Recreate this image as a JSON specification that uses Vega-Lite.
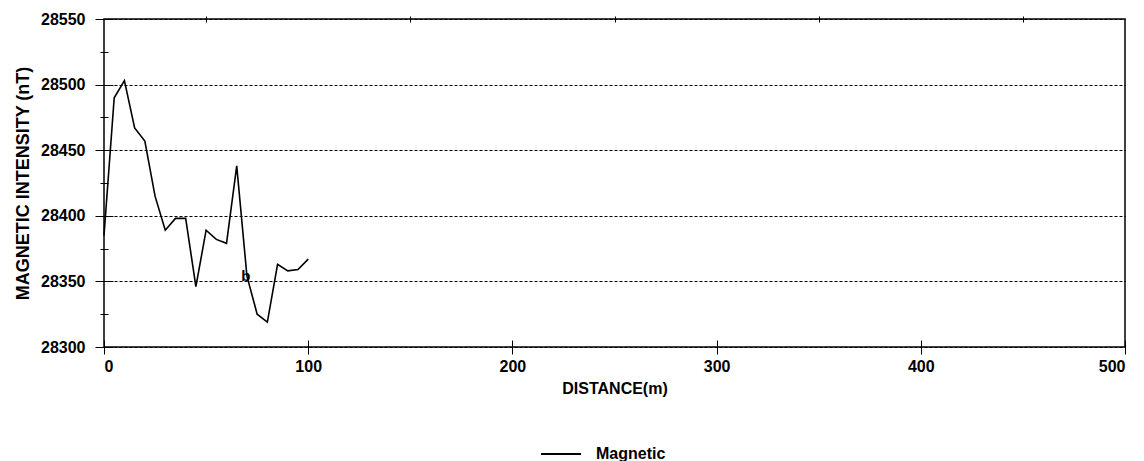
{
  "$schema": "https://vega.github.io/schema/vega-lite/v6.json",
  "autosize": {"type": "none"},
  "padding": {"left": 104, "top": 19, "right": 19, "bottom": 114},
  "width": 1021,
  "height": 328,
  "background": "white",
  "config": {
    "view": {"stroke": "black", "strokeWidth": 1.5},
    "font": "Liberation Sans",
    "axis": {
      "labelFont": "Liberation Sans", "labelFontWeight": "bold", "labelFontSize": 16, "labelColor": "black",
      "titleFont": "Liberation Sans", "titleFontWeight": "bold", "titleFontSize": 16, "titleColor": "black",
      "tickColor": "black", "domain": false
    }
  },
  "datasets": {
    "survey": [
      {"distance": 0, "intensity": 28385},
      {"distance": 5, "intensity": 28490},
      {"distance": 10, "intensity": 28503},
      {"distance": 15, "intensity": 28467},
      {"distance": 20, "intensity": 28457},
      {"distance": 25, "intensity": 28415},
      {"distance": 30, "intensity": 28389},
      {"distance": 35, "intensity": 28398},
      {"distance": 40, "intensity": 28398},
      {"distance": 45, "intensity": 28346},
      {"distance": 50, "intensity": 28389},
      {"distance": 55, "intensity": 28382},
      {"distance": 60, "intensity": 28379},
      {"distance": 65, "intensity": 28438},
      {"distance": 70, "intensity": 28354},
      {"distance": 75, "intensity": 28325},
      {"distance": 80, "intensity": 28319},
      {"distance": 85, "intensity": 28363},
      {"distance": 90, "intensity": 28358},
      {"distance": 95, "intensity": 28359},
      {"distance": 100, "intensity": 28367}
    ],
    "note": [
      {"distance": 69.5, "intensity": 28354, "label": "b"}
    ]
  },
  "layer": [
    {
      "data": {"name": "survey"},
      "mark": {"type": "line", "strokeWidth": 1.6, "color": "black"},
      "encoding": {
        "x": {
          "field": "distance", "type": "quantitative",
          "scale": {"domain": [0, 500], "nice": false},
          "axis": {
            "title": "DISTANCE(m)", "values": [0, 100, 200, 300, 400, 500],
            "offset": -7, "tickSize": 14, "labelPadding": 4, "titlePadding": 6,
            "grid": false, "format": "d"
          }
        },
        "y": {
          "field": "intensity", "type": "quantitative",
          "scale": {"domain": [28300, 28550], "nice": false, "zero": false},
          "axis": {
            "title": "MAGNETIC INTENSITY (nT)", "titleFontSize": 18,
            "values": [28300, 28350, 28400, 28450, 28500, 28550],
            "offset": -9, "tickSize": 18, "labelPadding": 10, "titlePadding": 8,
            "grid": true, "gridColor": "black", "gridDash": [3, 2], "gridWidth": 1.2, "gridOpacity": 1,
            "format": "d"
          }
        },
        "color": {
          "datum": "Magnetic",
          "scale": {"range": ["black"]},
          "legend": {
            "title": null, "orient": "none", "legendX": 436, "legendY": 414,
            "symbolType": "stroke", "symbolSize": 1600, "symbolStrokeWidth": 2,
            "symbolStrokeColor": "black", "symbolOpacity": 1,
            "labelFont": "Liberation Sans", "labelFontWeight": "bold", "labelFontSize": 16,
            "labelColor": "black", "labelOffset": 14
          }
        }
      }
    },
    {
      "data": {"name": "note"},
      "mark": {"type": "text", "font": "Liberation Sans", "fontSize": 15, "fontWeight": "bold", "color": "black"},
      "encoding": {
        "x": {
          "field": "distance", "type": "quantitative",
          "axis": {
            "title": null, "values": [50, 150, 250, 350, 450], "labels": false,
            "offset": -3, "tickSize": 6, "grid": false
          }
        },
        "y": {
          "field": "intensity", "type": "quantitative",
          "axis": {
            "title": null, "orient": "left",
            "values": [28325, 28375, 28425, 28475, 28525], "labels": false,
            "offset": -4, "tickSize": 8, "grid": false
          }
        },
        "text": {"field": "label"}
      }
    }
  ],
  "resolve": {"axis": {"x": "independent", "y": "independent"}}
}
